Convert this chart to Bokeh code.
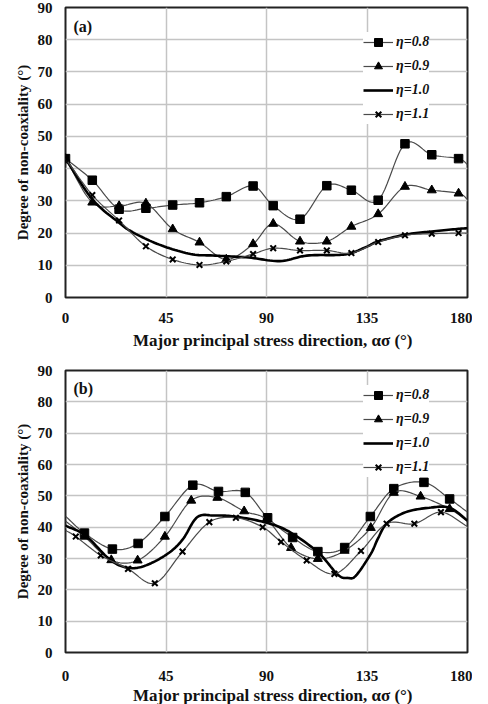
import numpy as np
from bokeh.plotting import figure
from bokeh.models import Legend, LegendItem, Label, FixedTicker, Range1d
from bokeh.layouts import column
from bokeh.embed import file_html
from bokeh.resources import INLINE

# ---------------- data ----------------
x_ticks = [0, 45, 90, 135, 180]
y_ticks = [0, 10, 20, 30, 40, 50, 60, 70, 80, 90]
series_names = ["η=0.8", "η=0.9", "η=1.0", "η=1.1"]
x_title = "\u00a0\u00a0\u00a0Major principal stress direction, ασ (°)"
y_title = "Degree of non-coaxiality (°)"

# panel (a)
a_x = [0, 12, 24, 36, 48, 60, 72, 84, 93, 105, 117, 128, 140, 152, 164, 176, 180]
a_08 = [43.1, 36.4, 27.4, 27.7, 28.7, 29.4, 31.3, 34.6, 28.5, 24.3, 34.7, 33.3, 30.2, 47.7, 44.3, 43.1, 41.3]
a_09 = [43.1, 29.5, 28.4, 29.2, 21.2, 17.1, 11.8, 16.6, 22.9, 17.4, 17.4, 22.0, 25.9, 34.4, 33.3, 32.3, 30.5]
a_11 = [43.1, 31.8, 23.9, 15.9, 11.8, 10.1, 11.2, 13.5, 15.3, 14.6, 14.6, 13.8, 17.2, 19.3, 19.8, 20.0, 20.0]
a_10_x = [0, 12, 24, 30, 42, 56, 67, 82, 96, 108, 122, 128, 135, 140, 152, 164, 176, 180]
a_10 = [43.1, 30.5, 23.2, 20.3, 16.4, 13.5, 13.0, 12.4, 11.3, 13.0, 13.2, 13.8, 15.8, 17.4, 19.5, 20.5, 21.3, 21.5]

# panel (b)
b_08_x = [0, 8.5, 21, 32.5, 44.5, 57, 68.5, 80.5, 90.5, 101.7, 113, 125, 136.5, 147, 160.5, 172, 180]
b_08 = [43.5, 38.1, 33.0, 34.8, 43.4, 53.4, 51.4, 51.1, 43.0, 36.7, 32.2, 33.5, 43.4, 52.3, 54.3, 49.0, 44.8]
b_09_x = [0, 8.5, 20.5, 32.3, 44.5, 56.3, 68, 80, 90, 101, 113, 125, 136.7, 147, 159, 172, 180]
b_09 = [42.0, 37.0, 29.5, 29.4, 37.0, 48.5, 49.4, 45.1, 42.5, 33.4, 29.9, 32.5, 39.8, 51.0, 49.8, 45.8, 42.0]
b_10_x = [0, 9, 20.3, 28.5, 36, 45.7, 52.4, 59, 66.6, 75.6, 89, 99.8, 113, 122, 126.4, 130, 136.7, 140, 144, 152.4, 162.9, 172, 180]
b_10 = [40.5, 37.3, 29.4, 27.0, 27.8, 31.5, 36.0, 43.2, 43.7, 43.4, 41.6, 38.7, 32.0, 24.8, 23.8, 24.5, 31.5, 36.5, 41.3, 44.8, 46.2, 46.2, 42.1]
b_11_x = [0, 4.6, 15.8, 28, 40, 52.4, 64.4, 76.3, 88.3, 96.5, 108, 120.4, 132.3, 143.8, 156.2, 168.1, 180]
b_11 = [39.0, 37.0, 31.0, 26.7, 22.1, 32.2, 41.6, 43.0, 40.0, 35.3, 29.4, 25.1, 32.4, 41.1, 41.1, 44.8, 40.2]

SERIF = "Liberation Serif"


def smooth(xs, ys, steps=12):
    """Catmull-Rom path through the data points (Excel-style smoothed line)."""
    pts = np.column_stack([xs, ys]).astype(float)
    first = 2 * pts[0] - pts[1]
    last = 2 * pts[-1] - pts[-2]
    P = np.vstack([first, pts, last])
    t = np.linspace(0, 1, steps, endpoint=False)[:, None]
    segs = []
    for i in range(1, len(P) - 2):
        p0, p1, p2, p3 = P[i - 1], P[i], P[i + 1], P[i + 2]
        seg = 0.5 * ((2 * p1) + (-p0 + p2) * t + (2 * p0 - 5 * p1 + 4 * p2 - p3) * t ** 2
                     + (-p0 + 3 * p1 - 3 * p2 + p3) * t ** 3)
        segs.append(seg)
    segs.append(pts[-1:])
    out = np.vstack(segs)
    return out[:, 0], out[:, 1]


def panel(tag, fh, top, bottom, s08, s09, s10, s11, mk_slice, leg_top, tick_standoff, title_standoff):
    p = figure(frame_width=402, frame_height=fh,
               x_range=Range1d(0, 180), y_range=Range1d(0, 90),
               output_backend="svg", toolbar_location=None,
               min_border_left=65, min_border_right=5,
               min_border_top=top, min_border_bottom=bottom,
               background_fill_color="white", border_fill_color="white")
    p.xaxis.ticker = FixedTicker(ticks=x_ticks)
    p.yaxis.ticker = FixedTicker(ticks=y_ticks)
    p.xgrid.ticker = FixedTicker(ticks=x_ticks[1:-1])
    p.ygrid.ticker = FixedTicker(ticks=y_ticks[1:-1])
    p.grid.grid_line_color = "#c4c4c4"
    p.grid.grid_line_width = 1.5
    p.outline_line_color = "#222222"
    p.outline_line_width = 2
    p.axis.axis_line_color = None
    p.axis.major_tick_line_color = None
    p.axis.minor_tick_line_color = None
    p.axis.major_label_text_font = SERIF
    p.axis.major_label_text_font_style = "bold"
    p.axis.major_label_text_font_size = "15px"
    p.axis.major_label_text_color = "#111111"
    p.axis.axis_label_text_font = SERIF
    p.axis.axis_label_text_font_style = "bold"
    p.axis.axis_label_text_color = "#111111"
    p.yaxis.axis_label_text_font_size = "15px"
    p.xaxis.axis_label_text_font_size = "17px"
    p.xaxis.axis_label = x_title
    p.yaxis.axis_label = y_title
    p.yaxis.major_label_standoff = 7
    p.yaxis.axis_label_standoff = 4
    p.xaxis.major_label_standoff = tick_standoff
    p.xaxis.axis_label_standoff = title_standoff

    thin = "#4a4a4a"
    items = []
    # eta = 0.8
    x, y = s08
    sx, sy = smooth(x, y)
    l1 = p.line(sx, sy, line_color=thin, line_width=1.2)
    m1 = p.scatter(x[mk_slice], y[mk_slice], marker="square", size=8.5, color="black")
    items.append(LegendItem(label=series_names[0], renderers=[l1, m1]))
    # eta = 0.9
    x, y = s09
    sx, sy = smooth(x, y)
    l2 = p.line(sx, sy, line_color=thin, line_width=1.2)
    m2 = p.scatter(x[mk_slice], y[mk_slice], marker="triangle", size=9, color="black")
    items.append(LegendItem(label=series_names[1], renderers=[l2, m2]))
    # eta = 1.0
    x, y = s10
    sx, sy = smooth(x, y)
    l3 = p.line(sx, sy, line_color="black", line_width=2.6)
    items.append(LegendItem(label=series_names[2], renderers=[l3]))
    # eta = 1.1
    x, y = s11
    sx, sy = smooth(x, y)
    l4 = p.line(sx, sy, line_color=thin, line_width=1.2)
    m4 = p.scatter(x[mk_slice], y[mk_slice], marker="x", size=8, line_color="black", line_width=2)
    items.append(LegendItem(label=series_names[3], renderers=[l4, m4]))

    leg_h = 2 * 2 + 4 * 20 + 3 * 4
    legend = Legend(items=items, location=(298, fh - leg_top - leg_h),
                    glyph_width=30, glyph_height=20, label_height=20,
                    spacing=4, padding=2, margin=0, label_standoff=3,
                    border_line_color=None, background_fill_color="white",
                    background_fill_alpha=1.0,
                    label_text_font=SERIF, label_text_font_style="bold italic",
                    label_text_font_size="14px", label_text_color="#111111")
    p.add_layout(legend, "center")

    p.add_layout(Label(x=3.6, y=84.2, text=tag, text_font=SERIF, text_font_style="bold",
                       text_font_size="16px", text_baseline="middle", text_color="#111111"))
    return p


def arr(v):
    return np.asarray(v, dtype=float)


pa = panel("(a)", 290, 7, 50,
           (arr(a_x), arr(a_08)), (arr(a_x), arr(a_09)),
           (arr(a_10_x), arr(a_10)), (arr(a_x), arr(a_11)),
           slice(0, -1), 21, 9, 5)
pb = panel("(b)", 282, 18, 45,
           (arr(b_08_x), arr(b_08)), (arr(b_09_x), arr(b_09)),
           (arr(b_10_x), arr(b_10)), (arr(b_11_x), arr(b_11)),
           slice(1, -1), 11, 12, 2)

layout = column(pa, pb, spacing=0)
open("out.html", "w").write(file_html(layout, INLINE))
